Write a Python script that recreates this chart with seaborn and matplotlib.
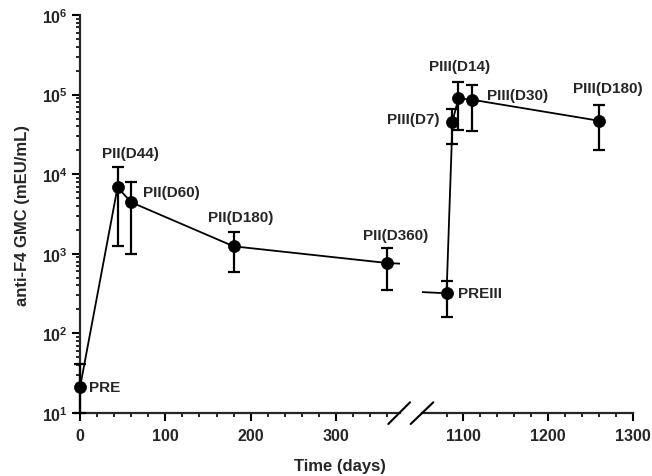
import numpy as np
import pandas as pd
import matplotlib
matplotlib.use("Agg")
import matplotlib.pyplot as plt
import matplotlib.ticker as mticker
from matplotlib.lines import Line2D
import seaborn as sns

# ---- data ----
labels = ["PRE", "PII(D44)", "PII(D60)", "PII(D180)", "PII(D360)",
          "PREIII", "PIII(D7)", "PIII(D14)", "PIII(D30)", "PIII(D180)"]
days = [0, 44, 60, 180, 360, 1080, 1087, 1094, 1110, 1260]
gmc = [21, 6840, 4440, 1242, 766, 319, 45700, 89700, 86300, 47000]
upper = [41, 12200, 7900, 1900, 1172, 459, 65900, 142500, 133000, 74000]
lower = [10, 1242, 993, 586, 354, 162, 23900, 35900, 35200, 20100]
left_ticks = [0, 100, 200, 300]
right_ticks = [1100, 1200, 1300]

# label offsets in points (dx, dy) and horizontal alignment
label_offsets = [(6.5, 0, "left"), (9, 24.5, "center"), (8.3, 7.2, "left"),
                 (5.3, 20.9, "center"), (6, 20, "center"), (8, 0, "left"),
                 (-9, 2, "right"), (1.2, 23.5, "center"), (10.6, 3.6, "left"),
                 (6.6, 23.3, "center")]

df = pd.DataFrame({"days": days, "gmc": gmc, "upper": upper, "lower": lower, "label": labels})

sns.set_theme(style="ticks")
plt.rcParams["font.family"] = ["Liberation Sans", "DejaVu Sans"]
plt.rcParams["font.weight"] = "bold"
plt.rcParams["mathtext.fontset"] = "custom"
plt.rcParams["mathtext.bf"] = "Liberation Sans:bold"
plt.rcParams["mathtext.rm"] = "Liberation Sans:bold"
plt.rcParams["mathtext.default"] = "bf"

W, H = 652, 477
fig = plt.figure(figsize=(W / 100, H / 100), dpi=100)
ax1 = fig.add_axes([80 / W, 63 / H, 320 / W, 398 / H])
ax2 = fig.add_axes([421.7 / W, 63 / H, 210.8 / W, 398 / H], sharey=ax1)

segments = [(ax1, df[df["days"] < 400]), (ax2, df[df["days"] >= 400])]
for ax, sub in segments:
    ax.patch.set_visible(False)
    # connecting line uses all points (clipped at the axes edges)
    sns.lineplot(data=df, x="days", y="gmc", ax=ax, color="black", lw=1.3,
                 estimator=None, sort=False, legend=False)
    yerr = [sub["gmc"] - sub["lower"], sub["upper"] - sub["gmc"]]
    eb = ax.errorbar(sub["days"], sub["gmc"], yerr=yerr, fmt="none", ecolor="black",
                     elinewidth=1.6, capsize=4.3, capthick=1.6, zorder=3)
    for art in eb.lines[1] + eb.lines[2]:
        art.set_clip_on(False)
    sns.scatterplot(data=sub, x="days", y="gmc", ax=ax, color="black", s=75,
                    edgecolor="black", linewidth=0.5, zorder=4, clip_on=False,
                    legend=False)
    ax.set_yscale("log")
    ax.set_ylim(10, 1e6)
    ax.set_xlabel("")
    ax.set_ylabel("")
    for s in ("top", "right"):
        ax.spines[s].set_visible(False)
    ax.spines["bottom"].set_linewidth(1.6)
    ax.spines["left"].set_linewidth(1.6)
    ax.tick_params(axis="both", which="major", direction="out", length=5.5,
                   width=1.5, labelsize=11.5, pad=5, color="black")
    ax.tick_params(axis="both", which="minor", direction="out", length=3,
                   width=1.2, color="black")
    for t in ax.get_xticklabels() + ax.get_yticklabels():
        t.set_fontweight("bold")

ax1.set_xlim(0, 375)
ax1.set_xticks(left_ticks)
ax1.xaxis.set_minor_locator(mticker.FixedLocator(list(range(20, 361, 20))))
ax2.set_xlim(1050.6, 1300)
ax2.set_xticks(right_ticks)
ax2.xaxis.set_minor_locator(mticker.FixedLocator(list(range(1080, 1301, 20))))

ax1.yaxis.set_major_locator(mticker.LogLocator(base=10))
ax1.yaxis.set_minor_locator(mticker.LogLocator(base=10, subs=np.arange(2, 10)))
ax1.yaxis.set_minor_formatter(mticker.NullFormatter())
ax1.yaxis.set_major_formatter(mticker.FuncFormatter(
    lambda v, p: r"$\mathbf{10^{%d}}$" % int(round(np.log10(v)))))
ax1.tick_params(axis="y", which="major", pad=3)

ax2.spines["left"].set_visible(False)
ax2.tick_params(axis="y", which="both", left=False, labelleft=False)

# point labels
for i, row in df.iterrows():
    ax = ax1 if row["days"] < 400 else ax2
    dx, dy, ha = label_offsets[i]
    ax.annotate(row["label"], (row["days"], row["gmc"]), xytext=(dx, dy),
                textcoords="offset points", ha=ha, va="center",
                fontsize=11, fontweight="bold", annotation_clip=False, zorder=6)

# axis titles
ax1.set_ylabel("anti-F4 GMC (mEU/mL)", fontsize=12, fontweight="bold", labelpad=9)
fig.text(340 / W, 1 - 467 / H, "Time (days)", ha="center", va="center",
         fontsize=12, fontweight="bold")

# axis break marks
for (x0, y0, x1, y1) in [(388.3, 425, 410, 403.3), (410.7, 425, 433.3, 403.3)]:
    fig.add_artist(Line2D([x0 / W, x1 / W], [1 - y0 / H, 1 - y1 / H],
                          transform=fig.transFigure, color="black", lw=1.5))

fig.savefig("out.png", dpi=100)
